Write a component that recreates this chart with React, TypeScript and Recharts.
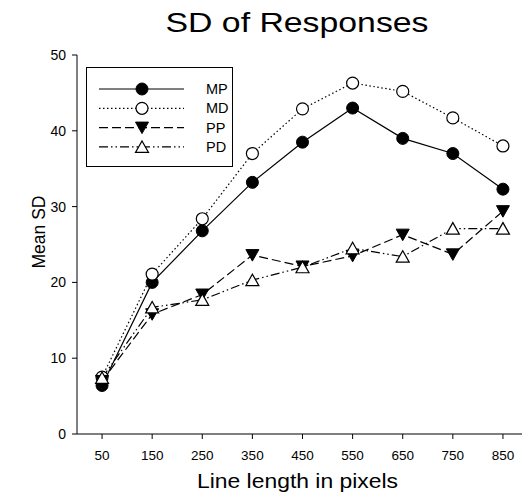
import React from 'react';
import { LineChart, Line, XAxis, YAxis, Legend } from 'recharts';

const lengths = [50, 150, 250, 350, 450, 550, 650, 750, 850];
const mpValues = [6.4, 20.0, 26.8, 33.2, 38.5, 43.0, 39.0, 37.0, 32.3];
const mdValues = [7.5, 21.1, 28.4, 37.0, 42.9, 46.3, 45.2, 41.7, 38.0];
const ppValues = [7.0, 15.8, 18.4, 23.6, 22.1, 23.5, 26.3, 23.7, 29.4];
const pdValues = [7.4, 16.7, 17.7, 20.3, 22.0, 24.5, 23.4, 27.1, 27.1];
const yTicks = [0, 10, 20, 30, 40, 50];

const data = lengths.map((len, i) => ({
  len,
  MP: mpValues[i],
  MD: mdValues[i],
  PP: ppValues[i],
  PD: pdValues[i],
}));

const FONT = '"Liberation Sans", Arial, Helvetica, sans-serif';

type MarkerKind = 'filledCircle' | 'openCircle' | 'filledDown' | 'openUp';

const series: { key: string; dash?: string; marker: MarkerKind }[] = [
  { key: 'MP', marker: 'filledCircle' },
  { key: 'MD', dash: '1.5 2.5', marker: 'openCircle' },
  { key: 'PP', dash: '9 4', marker: 'filledDown' },
  { key: 'PD', dash: '9 3 1.5 3 1.5 3', marker: 'openUp' },
];

const Marker = ({ kind, cx, cy }: { kind: MarkerKind; cx: number; cy: number }) => {
  if (cx == null || cy == null) return null;
  switch (kind) {
    case 'filledCircle':
      return <circle cx={cx} cy={cy} r={6} fill="#000" stroke="#000" strokeWidth={1} />;
    case 'openCircle':
      return <circle cx={cx} cy={cy} r={6} fill="#fff" stroke="#000" strokeWidth={1.2} />;
    case 'filledDown':
      return (
        <polygon
          points={`${cx - 6.5},${cy - 5.5} ${cx + 6.5},${cy - 5.5} ${cx},${cy + 6}`}
          fill="#000"
          stroke="#000"
        />
      );
    default:
      return (
        <polygon
          points={`${cx - 6.5},${cy + 5.5} ${cx + 6.5},${cy + 5.5} ${cx},${cy - 6}`}
          fill="#fff"
          stroke="#000"
          strokeWidth={1.2}
        />
      );
  }
};

// boxed legend, top-left inside the plot; keep series order (MP, MD, PP, PD)
const renderLegend = (props: any) => {
  const items = props.payload || [];
  return (
    <div style={{ width: 145, height: 98, border: '1px solid #000', background: '#fff' }}>
      <svg width={145} height={98} style={{ display: 'block' }}>
        {series.map((s, i) => {
          const entry = items.find((e: any) => e.dataKey === s.key);
          const y = 21 + i * 19.3;
          return (
            <g key={s.key}>
              <line x1={12} x2={97} y1={y} y2={y} stroke="#000" strokeWidth={1.2} strokeDasharray={s.dash} />
              <Marker kind={s.marker} cx={55} cy={y} />
              <text x={119} y={y + 5} fontSize={14.5} fontFamily={FONT} fill="#000">
                {entry ? entry.value : s.key}
              </text>
            </g>
          );
        })}
      </svg>
    </div>
  );
};

export default function App() {
  return (
    <div style={{ position: 'absolute', left: 0, top: 0, width: 522, height: 497, overflow: 'hidden', background: '#fff' }}>
      <LineChart
        width={530}
        height={497}
        data={data}
        margin={{ top: 55, right: 2, bottom: 0, left: 0 }}
        style={{ fontFamily: FONT }}
      >
        <XAxis
          dataKey="len"
          type="number"
          domain={[0, 900]}
          ticks={lengths}
          height={63}
          tickSize={5}
          tickMargin={11}
          stroke="#000"
          tick={{ fill: '#000', fontSize: 13.5, fontFamily: FONT }}
          tickLine={{ stroke: '#000' }}
          axisLine={{ stroke: '#000' }}
        />
        <YAxis
          type="number"
          domain={[0, 50]}
          ticks={yTicks}
          width={77}
          tickSize={5}
          tickMargin={6}
          stroke="#000"
          tick={{ fill: '#000', fontSize: 14, fontFamily: FONT }}
          tickLine={{ stroke: '#000' }}
          axisLine={{ stroke: '#000' }}
        />
        <Legend
          layout="vertical"
          align="center"
          verticalAlign="middle"
          content={renderLegend}
          wrapperStyle={{ position: 'absolute', left: 86, top: 67, width: 147, height: 100 }}
        />
        {series.map((s) => (
          <Line
            key={s.key}
            dataKey={s.key}
            name={s.key}
            stroke="#000"
            strokeWidth={1.2}
            strokeDasharray={s.dash}
            isAnimationActive={false}
            activeDot={false}
            dot={(p: any) => <Marker key={`${s.key}-${p.index}`} kind={s.marker} cx={p.cx} cy={p.cy} />}
          />
        ))}
      </LineChart>
      <svg width={522} height={497} style={{ position: 'absolute', left: 0, top: 0, pointerEvents: 'none' }}>
        <text
          x={297}
          y={32}
          textAnchor="middle"
          fontSize={28}
          fontFamily={FONT}
          textLength={263}
          lengthAdjust="spacingAndGlyphs"
          fill="#000"
        >
          SD of Responses
        </text>
        <text
          x={297.5}
          y={488}
          textAnchor="middle"
          fontSize={20.5}
          fontFamily={FONT}
          textLength={201}
          lengthAdjust="spacingAndGlyphs"
          fill="#000"
        >
          Line length in pixels
        </text>
        <text
          x={0}
          y={0}
          transform="translate(45 232) rotate(-90)"
          textAnchor="middle"
          fontSize={17.5}
          fontFamily={FONT}
          fill="#000"
        >
          Mean SD
        </text>
      </svg>
    </div>
  );
}
